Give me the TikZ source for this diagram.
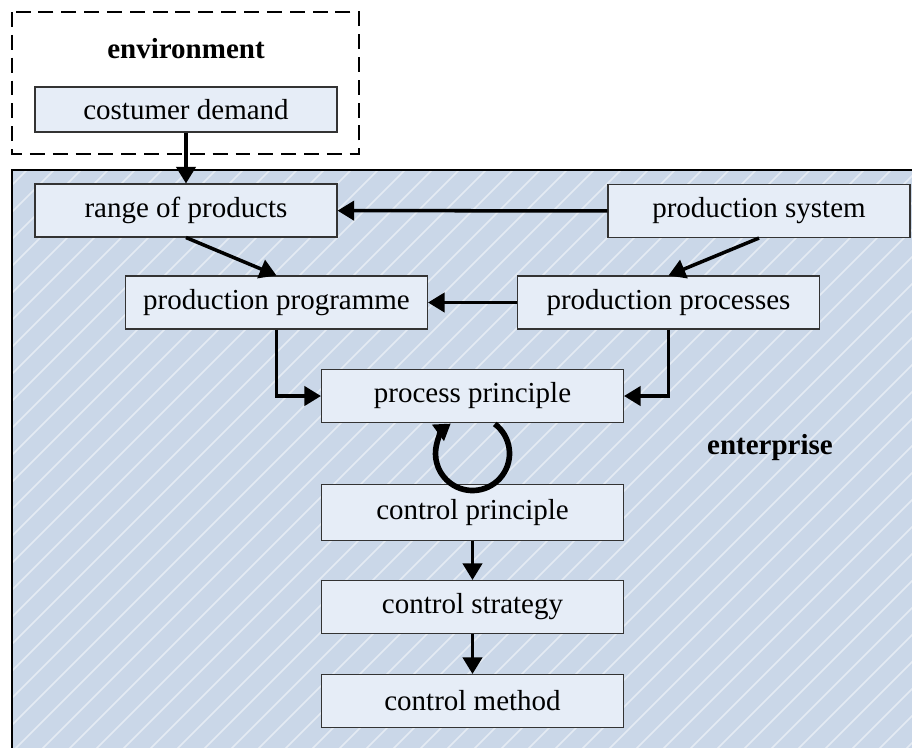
\documentclass[tikz,border=0pt]{standalone}
\usepackage{fontspec}
\setmainfont{Liberation Serif}
\usetikzlibrary{arrows.meta,calc}

\definecolor{entfill}{RGB}{202,215,232}
\definecolor{boxfill}{RGB}{230,237,247}

\begin{document}
\begin{tikzpicture}
        \tikzstyle{block} = [draw=black!80, line width=0.6pt, fill=boxfill, minimum width=6.04cm, minimum height=1.06cm, inner sep=0pt, font=\fontsize{16.5}{20}\selectfont]
        \tikzstyle{heading} = [font=\fontsize{16.5}{20}\selectfont\bfseries]
        \tikzstyle{flow} = [line width=2pt, -{Triangle[length=9.5pt,width=11pt]}]
        \tikzstyle{cyclearrow} = [line width=3.2pt, -{Triangle[length=9pt,width=11pt]}]
        \tikzstyle{hatch} = [white, opacity=0.5, line width=0.9pt]

        \useasboundingbox (0,0) rectangle (18.24,-14.94);

		% environment
		\draw[line width=1.1pt, dash pattern=on 8.5pt off 4.5pt] (0.24,-0.24) rectangle (7.18,-3.08);
		\node[heading] (env) at (3.72,-0.98) {environment};
		\node[block, minimum height=0.9cm] (demand) at (3.72,-2.19) {costumer demand};

		% enterprise
		\fill[entfill] (0.24,-3.40) rectangle (18.7,-15.4);
		\begin{scope}
		\clip (0.24,-3.40) rectangle (18.7,-15.4);
		\foreach \x in {-12.0,-11.46,...,18.7}
			\draw[hatch] (\x,-15.4) -- ++(12.0,12.0);
		\end{scope}
		\draw[line width=1.1pt] (18.7,-3.40) -- (0.24,-3.40) -- (0.24,-15.4);
		\node[heading] (ent) at (15.4,-8.96) {enterprise};

		\node[block] (range) at (3.72,-4.21) {range of products};
		\node[block] (psystem) at (15.18,-4.22) {production system};
		\node[block] (pprogramme) at (5.53,-6.05) {production programme};
		\node[block] (pprocesses) at (13.37,-6.05) {production processes};
		\node[block] (pprinciple) at (9.45,-7.92) {process principle};
		\node[block, minimum height=1.12cm] (cprinciple) at (9.45,-10.25) {control principle};
		\node[block] (cstrategy) at (9.45,-12.14) {control strategy};
		\node[block] (cmethod) at (9.45,-14.02) {control method};

		\draw[flow] (demand) -- (range);
		\draw[flow] (psystem) -- (range);
		\draw[flow] (pprocesses) -- (pprogramme);
		\draw[flow] (range.south) -- (pprogramme.north);
		\draw[flow] (psystem.south) -- (pprocesses.north);
		\draw[flow] (pprogramme.south) |- (pprinciple.west);
		\draw[flow] (pprocesses.south) |- (pprinciple.east);
		\draw[flow] (cprinciple) -- (cstrategy);
		\draw[flow] (cstrategy) -- (cmethod);

		\coordinate (loopc) at ($(pprinciple.south)!0.5!(cprinciple.north)$);
		\draw[cyclearrow] (loopc) ++(53:0.74) arc[start angle=53, end angle=-234, radius=0.74];

    \end{tikzpicture}
\end{document}
